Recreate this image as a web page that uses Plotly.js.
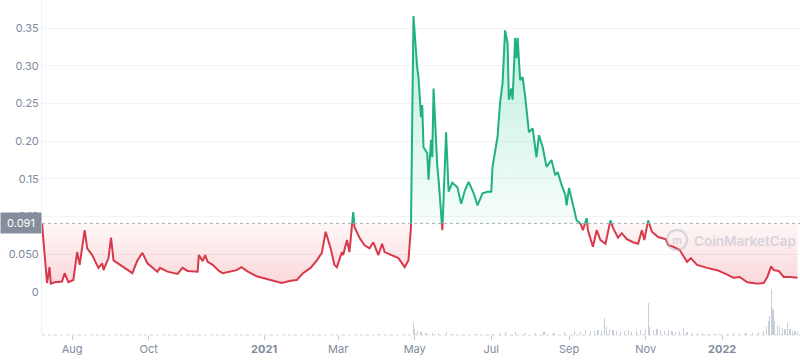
<!DOCTYPE html>
<html><head><meta charset="utf-8">
<script src="https://cdn.plot.ly/plotly-3.0.1.min.js"></script>
<style>html,body{margin:0;padding:0;background:#fff}#chart{width:800px;height:360px}</style>
</head><body><div id="chart"></div>
<script>
const dates = ['2020-07-08','2020-07-12','2020-07-14','2020-07-15','2020-07-18','2020-07-24','2020-07-26','2020-07-29','2020-08-02','2020-08-05','2020-08-07','2020-08-11','2020-08-13','2020-08-17','2020-08-19','2020-08-22','2020-08-25','2020-08-26','2020-08-30','2020-09-01','2020-09-03','2020-09-08','2020-09-12','2020-09-16','2020-09-18','2020-09-22','2020-09-26','2020-09-30','2020-10-04','2020-10-08','2020-10-10','2020-10-16','2020-10-24','2020-10-28','2020-11-01','2020-11-09','2020-11-10','2020-11-13','2020-11-15','2020-11-17','2020-11-21','2020-11-26','2020-11-29','2020-12-05','2020-12-10','2020-12-14','2020-12-19','2020-12-26','2021-01-02','2021-01-08','2021-01-15','2021-01-22','2021-01-27','2021-02-01','2021-02-07','2021-02-12','2021-02-16','2021-02-19','2021-02-23','2021-02-26','2021-02-28','2021-03-04','2021-03-05','2021-03-08','2021-03-10','2021-03-13','2021-03-14','2021-03-18','2021-03-22','2021-03-26','2021-03-29','2021-04-02','2021-04-05','2021-04-07','2021-04-13','2021-04-18','2021-04-23','2021-04-26','2021-04-28','2021-04-30','2021-05-03','2021-05-04','2021-05-06','2021-05-07','2021-05-08','2021-05-11','2021-05-12','2021-05-14','2021-05-15','2021-05-16','2021-05-19','2021-05-20','2021-05-23','2021-05-26','2021-05-28','2021-05-31','2021-06-04','2021-06-07','2021-06-10','2021-06-13','2021-06-17','2021-06-20','2021-06-24','2021-06-28','2021-07-01','2021-07-02','2021-07-06','2021-07-08','2021-07-10','2021-07-12','2021-07-14','2021-07-15','2021-07-17','2021-07-18','2021-07-20','2021-07-21','2021-07-22','2021-07-24','2021-07-26','2021-07-28','2021-07-31','2021-08-03','2021-08-06','2021-08-08','2021-08-11','2021-08-14','2021-08-18','2021-08-21','2021-08-23','2021-08-26','2021-08-29','2021-08-30','2021-09-01','2021-09-04','2021-09-07','2021-09-10','2021-09-12','2021-09-15','2021-09-16','2021-09-20','2021-09-23','2021-09-26','2021-09-30','2021-10-04','2021-10-06','2021-10-10','2021-10-13','2021-10-17','2021-10-22','2021-10-26','2021-10-29','2021-10-31','2021-11-03','2021-11-06','2021-11-11','2021-11-17','2021-11-19','2021-11-23','2021-11-28','2021-12-04','2021-12-07','2021-12-12','2021-12-20','2021-12-28','2022-01-05','2022-01-10','2022-01-15','2022-01-21','2022-01-29','2022-02-03','2022-02-06','2022-02-09','2022-02-11','2022-02-15','2022-02-19','2022-02-24','2022-03-02'];
const prices = [0.091,0.012,0.033,0.011,0.013,0.014,0.025,0.013,0.016,0.053,0.036,0.082,0.058,0.049,0.042,0.032,0.038,0.029,0.045,0.072,0.042,0.036,0.032,0.027,0.025,0.042,0.052,0.038,0.032,0.027,0.032,0.027,0.024,0.032,0.028,0.027,0.049,0.041,0.049,0.040,0.036,0.028,0.025,0.027,0.029,0.033,0.027,0.021,0.018,0.015,0.012,0.015,0.016,0.025,0.032,0.042,0.052,0.080,0.058,0.036,0.033,0.053,0.049,0.069,0.053,0.106,0.086,0.072,0.062,0.058,0.066,0.049,0.064,0.053,0.049,0.045,0.033,0.042,0.086,0.366,0.297,0.285,0.232,0.248,0.192,0.184,0.149,0.202,0.179,0.270,0.166,0.149,0.082,0.212,0.133,0.145,0.139,0.117,0.135,0.146,0.131,0.115,0.131,0.133,0.133,0.166,0.206,0.251,0.277,0.347,0.330,0.255,0.270,0.255,0.337,0.310,0.337,0.281,0.285,0.259,0.212,0.217,0.179,0.208,0.192,0.166,0.175,0.155,0.159,0.142,0.129,0.115,0.138,0.118,0.095,0.091,0.082,0.098,0.082,0.060,0.082,0.069,0.064,0.095,0.085,0.072,0.078,0.070,0.066,0.064,0.082,0.069,0.095,0.080,0.073,0.070,0.062,0.060,0.056,0.040,0.045,0.036,0.032,0.029,0.023,0.019,0.020,0.013,0.011,0.012,0.020,0.034,0.029,0.028,0.020,0.020,0.019];
const volDates = ['2020-08-10','2020-10-01','2020-12-01','2021-02-01','2021-04-01','2021-04-30','2021-05-01','2021-05-03','2021-05-06','2021-05-10','2021-05-15','2021-05-20','2021-05-26','2021-06-01','2021-06-10','2021-06-20','2021-07-01','2021-07-08','2021-07-12','2021-07-20','2021-07-28','2021-08-05','2021-08-12','2021-08-20','2021-08-28','2021-09-05','2021-09-10','2021-09-14','2021-09-18','2021-09-21','2021-09-24','2021-09-27','2021-09-29','2021-10-01','2021-10-03','2021-10-06','2021-10-09','2021-10-12','2021-10-15','2021-10-18','2021-10-21','2021-10-25','2021-10-28','2021-11-01','2021-11-03','2021-11-04','2021-11-07','2021-11-10','2021-11-13','2021-11-16','2021-11-19','2021-11-22','2021-11-25','2021-11-28','2021-12-01','2021-12-04','2021-12-08','2021-12-12','2021-12-16','2021-12-20','2021-12-25','2021-12-30','2022-01-05','2022-01-10','2022-01-15','2022-01-20','2022-01-25','2022-01-30','2022-02-03','2022-02-05','2022-02-07','2022-02-08','2022-02-09','2022-02-10','2022-02-11','2022-02-12','2022-02-14','2022-02-16','2022-02-18','2022-02-20','2022-02-22','2022-02-24','2022-02-26','2022-02-28','2022-03-02'];
const volumes = [0.5,0.5,0.5,0.5,0.8,12,6,4,3,2,2.5,2,3,1.5,1,1,1.5,2,3,3,2,2.5,3,2,3,4,3,5,3,4,5,4,18,8,6,5,4,3,4,5,3,4,5,6,33,8,5,6,5,4,5,4,3,4,7,3,2,2,2,1.5,1.5,1.5,1.5,2,1.5,2,2,3,4,8,14,20,48,28,26,14,10,8,7,6,12,6,4,4,3];
const baseline = 0.091;
const xTickVals = ['2020-08-01','2020-10-01','2021-01-01','2021-03-01','2021-05-01','2021-07-01','2021-09-01','2021-11-01','2022-01-01'];
const xTickText = ['Aug','Oct','<b>2021</b>','Mar','May','Jul','Sep','Nov','<b>2022</b>'];
const yTickVals = [0,0.05,0.10,0.15,0.20,0.25,0.30,0.35];
const yTickText = ['0','0.050','0.10','0.15','0.20','0.25','0.30','0.35'];

const GREEN = '#1fb27f', RED = '#d8394b';
function toMs(d){return Date.parse(d+'T00:00:00Z');}
function fmt(ms){return new Date(ms).toISOString().slice(0,19).replace('T',' ');}
const ax=[], ay=[];
for (let i=0;i<dates.length;i++){
  const t1=toMs(dates[i]), v1=prices[i];
  if(i>0){
    const t0=toMs(dates[i-1]), v0=prices[i-1];
    if((v0-baseline)*(v1-baseline)<0){
      const f=(baseline-v0)/(v1-v0);
      ax.push(fmt(t0+f*(t1-t0))); ay.push(baseline);
    }
  }
  ax.push(fmt(t1)); ay.push(v1);
}
const baseY = ax.map(()=>baseline);
const maxP = Math.max(...prices);
const traces = [
  {x:ax,y:baseY,mode:'lines',line:{width:0},hoverinfo:'skip',showlegend:false},
  {x:ax,y:ay.map(v=>Math.max(v,baseline)),mode:'lines',line:{width:0},fill:'tonexty',
   fillgradient:{type:'vertical',start:baseline,stop:maxP,colorscale:[[0,'rgba(22,199,132,0.03)'],[1,'rgba(22,199,132,0.30)']]},
   hoverinfo:'skip',showlegend:false},
  {x:ax,y:baseY,mode:'lines',line:{width:0},hoverinfo:'skip',showlegend:false},
  {x:ax,y:ay.map(v=>Math.min(v,baseline)),mode:'lines',line:{width:0},fill:'tonexty',
   fillgradient:{type:'vertical',start:0,stop:baseline,colorscale:[[0,'rgba(234,57,67,0.22)'],[1,'rgba(234,57,67,0.04)']]},
   hoverinfo:'skip',showlegend:false},
  {x:ax,y:ay.map(v=>v>=baseline?v:null),mode:'lines',line:{color:GREEN,width:2},connectgaps:false,showlegend:false},
  {x:ax,y:ay.map(v=>v<=baseline?v:null),mode:'lines',line:{color:RED,width:2},connectgaps:false,showlegend:false},
  {type:'bar',x:volDates,y:volumes,yaxis:'y2',marker:{color:'#c8ced8'},width:86400000*0.9,showlegend:false}
];
const tf = {family:'Inter, Lato, sans-serif',size:11,color:'#808a9d'};
const layout = {
  width:800,height:360,margin:{l:42,r:0,t:0,b:25},
  paper_bgcolor:'#fff',plot_bgcolor:'#fff',showlegend:false,bargap:0,
  xaxis:{type:'date',range:['2020-07-08','2022-03-04'],tickvals:xTickVals,ticktext:xTickText,
    ticks:'outside',ticklen:4,tickcolor:'#c5ccd6',showgrid:false,zeroline:false,showline:false,tickfont:tf},
  yaxis:{range:[-0.057,0.3873],tickvals:yTickVals,ticktext:yTickText,showgrid:true,gridcolor:'#f1f3f6',
    zeroline:false,showline:true,linecolor:'#eef0f3',ticks:'',tickfont:tf},
  yaxis2:{domain:[0,0.15],range:[0,52],visible:false,anchor:'x'},
  shapes:[
    {type:'line',xref:'paper',x0:0,x1:1,yref:'y',y0:baseline,y1:baseline,line:{color:'#a6b0c3',width:1,dash:'dot'}},
    {type:'line',xref:'paper',x0:0,x1:1,yref:'paper',y0:0,y1:0,line:{color:'#d0d5dd',width:1,dash:'dot'}},
    {type:'circle',xref:'paper',yref:'paper',x0:0.8245,x1:0.851,y0:0.2537,y1:0.3135,line:{color:'rgba(175,183,198,0.45)',width:2.5}}
  ],
  annotations:[
    {xref:'paper',x:0,xanchor:'right',yref:'y',y:baseline,text:'0.091',showarrow:false,bgcolor:'#868d9c',
     font:{family:'Inter, Lato, sans-serif',size:11,color:'#ffffff'},borderpad:3,width:34},
    {xref:'paper',x:0.8575,xanchor:'left',yref:'paper',y:0.281,yanchor:'middle',text:'CoinMarketCap',showarrow:false,
     font:{family:'Inter, sans-serif',size:13.5,color:'rgba(175,183,198,0.5)',weight:600}},
    {xref:'paper',x:0.8377,xanchor:'center',yref:'paper',y:0.283,yanchor:'middle',text:'m',showarrow:false,
     font:{family:'Inter, sans-serif',size:11,color:'rgba(175,183,198,0.45)',weight:700}}
  ]
};
Plotly.newPlot('chart',traces,layout,{displayModeBar:false,staticPlot:true});
</script></body></html>
